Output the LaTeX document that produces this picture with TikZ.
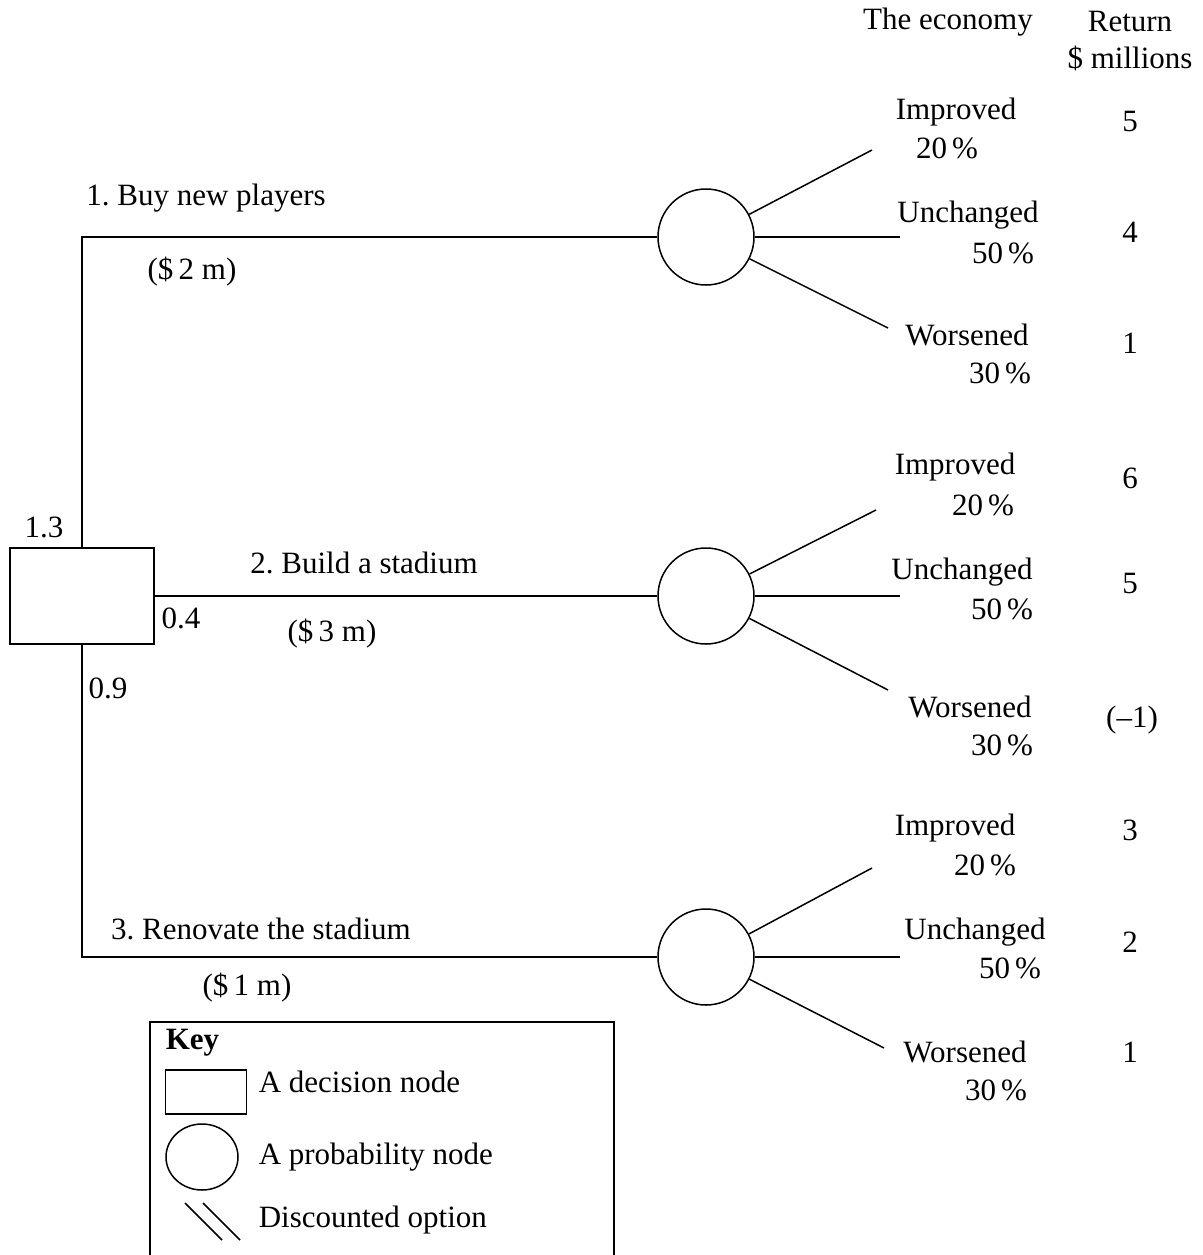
\documentclass[tikz,border=0pt]{standalone}
\usepackage{fontspec}
\setmainfont{Liberation Serif}
\usetikzlibrary{shapes.geometric}
\frenchspacing
\tikzset{
  decbox/.style={draw, minimum width=144pt, minimum height=96pt, inner sep=0pt},
  chance/.style={draw, circle, minimum size=96pt, inner sep=0pt},
  lbl/.style={inner sep=0pt}
}
\begin{document}
\begin{tikzpicture}[x=1pt, y=-1pt, line width=1.5pt, font=\fontsize{31}{36}\selectfont]
        \useasboundingbox (0,0) rectangle (1202,1255);
        % decision and chance nodes
        \node[decbox] (dec) at (82,596) {};
        \node[chance] (c1) at (706,237) {};
        \node[chance] (c2) at (706,596) {};
        \node[chance] (c3) at (706,957) {};
        \draw (dec.north) |- (c1);
        \draw (dec.east) -- (c2);
        \draw (dec.south) |- (c3);
        % outcome ends
        \coordinate (i1) at (872,150);
        \coordinate (u1) at (900,237);
        \coordinate (w1) at (888,328);
        \coordinate (i2) at (876,510);
        \coordinate (u2) at (900,596);
        \coordinate (w2) at (888,690);
        \coordinate (i3) at (872,868);
        \coordinate (u3) at (900,957);
        \coordinate (w3) at (884,1048);
        \draw (c1) -- (i1);
        \draw (c1) -- (u1);
        \draw (c1) -- (w1);
        \draw (c2) -- (i2);
        \draw (c2) -- (u2);
        \draw (c2) -- (w2);
        \draw (c3) -- (i3);
        \draw (c3) -- (u3);
        \draw (c3) -- (w3);
        % headings
        \node[lbl] (h1) at (948,22) {The economy};
        \node[lbl] (h2) at (1130,22) {Return};
        \node[lbl] (h3) at (1130,58) {\$ millions};
        % options
        \node[lbl] (o1) at (206,198) {1. Buy new players};
        \node[lbl] (k1) at (192,272) {(\$\,2 m)};
        \node[lbl] (o2) at (364,563) {2. Build a stadium};
        \node[lbl] (k2) at (332,634) {(\$\,3 m)};
        \node[lbl] (o3) at (261,929) {3. Renovate the stadium};
        \node[lbl] (k3) at (247,988) {(\$\,1 m)};
        \node[lbl] (v0) at (44,527) {1.3};
        \node[lbl] (v2) at (181,618) {0.4};
        \node[lbl] (v3) at (108,688) {0.9};
        % outcomes 1
        \node[lbl] (ti1) at (956,112) {Improved};
        \node[lbl] (pi1) at (947,148) {20\,\%};
        \node[lbl] (tu1) at (968,215) {Unchanged};
        \node[lbl] (pu1) at (1003,253) {50\,\%};
        \node[lbl] (tw1) at (967,335) {Worsened};
        \node[lbl] (pw1) at (1000,373) {30\,\%};
        \node[lbl] (r11) at (1130,122) {5};
        \node[lbl] (r12) at (1130,232) {4};
        \node[lbl] (r13) at (1130,343) {1};
        % outcomes 2
        \node[lbl] (ti2) at (955,467) {Improved};
        \node[lbl] (pi2) at (983,505) {20\,\%};
        \node[lbl] (tu2) at (962,572) {Unchanged};
        \node[lbl] (pu2) at (1002,609) {50\,\%};
        \node[lbl] (tw2) at (970,707) {Worsened};
        \node[lbl] (pw2) at (1002,745) {30\,\%};
        \node[lbl] (r21) at (1130,478) {6};
        \node[lbl] (r22) at (1130,583) {5};
        \node[lbl] (r23) at (1132,720) {(--1)};
        % outcomes 3
        \node[lbl] (ti3) at (955,828) {Improved};
        \node[lbl] (pi3) at (985,865) {20\,\%};
        \node[lbl] (tu3) at (975,932) {Unchanged};
        \node[lbl] (pu3) at (1010,968) {50\,\%};
        \node[lbl] (tw3) at (965,1052) {Worsened};
        \node[lbl] (pw3) at (996,1090) {30\,\%};
        \node[lbl] (r31) at (1130,830) {3};
        \node[lbl] (r32) at (1130,942) {2};
        \node[lbl] (r33) at (1130,1052) {1};
        % key
        \draw (150,1255) -- (150,1022) -- (614,1022) -- (614,1255);
        \node[lbl, anchor=west, font=\fontsize{31}{36}\selectfont\bfseries] (kt) at (165,1043) {Key};
        \node[draw, minimum width=81pt, minimum height=44pt, inner sep=0pt] (kd) at (206,1092) {};
        \node[lbl, anchor=west] (kdt) at (258,1082) {A decision node};
        \node[draw, ellipse, minimum width=72pt, minimum height=66pt, inner sep=0pt] (kp) at (202,1157) {};
        \node[lbl, anchor=west] (kpt) at (258,1157) {A probability node};
        \draw (185,1203) -- (222,1240);
        \draw (203,1203) -- (240,1240);
        \node[lbl, anchor=west] (kot) at (258,1220) {Discounted option};
    \end{tikzpicture}
\end{document}
